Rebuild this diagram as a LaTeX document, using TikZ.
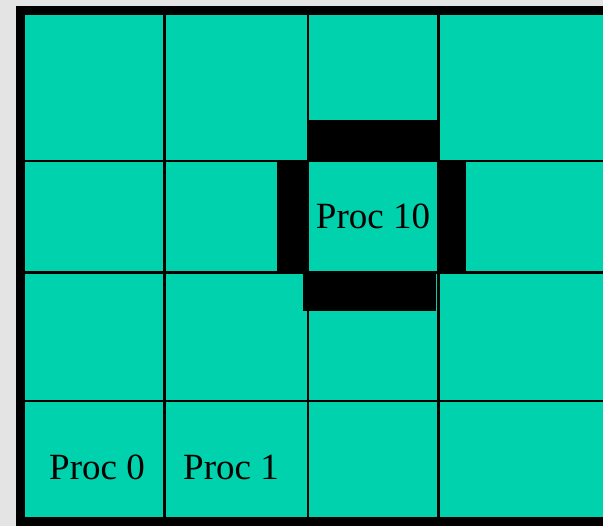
\documentclass[tikz,border=0pt]{standalone}
\usepackage{fontspec}
\setmainfont{Liberation Serif}
\usepackage{xcolor}
\definecolor{Teal}{HTML}{00D2AD}
\definecolor{Backgrey}{HTML}{E4E4E4}
\tikzset{
  gridline/.style={line width=2.2bp,black},
  msgbar/.style={fill=black},
  proclabel/.style={anchor=base,inner sep=0pt,font=\fontsize{37bp}{40bp}\selectfont}
}
\begin{document}
\begin{tikzpicture}[x=1bp,y=-1bp]
  \useasboundingbox (0,0) rectangle (603,526);
  \clip (0,0) rectangle (603,526);
  \fill[Backgrey] (0,0) rectangle (603,526);
  \fill[black] (16,6) rectangle (640,560);
  \fill[Teal] (25,15) rectangle (630,517);
  % process grid
  \foreach \gx in {164.5,308,438.5}
    \draw[gridline] (\gx,15) -- (\gx,517);
  \foreach \gy in {161,272.5,401}
    \draw[gridline] (25,\gy) -- (630,\gy);
  % halo exchange around proc 10
  \fill[msgbar] (307,120) rectangle (438,161);
  \fill[msgbar] (277,161) rectangle (307,272.5);
  \fill[msgbar] (438,161) rectangle (466,272.5);
  \fill[msgbar] (303,272.5) rectangle (436,311);
  \node[proclabel] (proc10) at (373,229) {Proc 10};
  \node[proclabel] (proc0) at (97,479) {Proc 0};
  \node[proclabel] (proc1) at (231,479) {Proc 1};
\end{tikzpicture}
\end{document}
